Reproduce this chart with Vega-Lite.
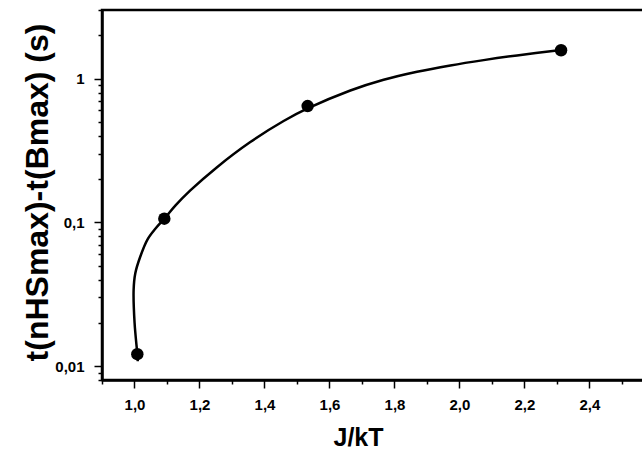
{
  "$schema": "https://vega.github.io/schema/vega-lite/v6.json",
  "width": 543,
  "height": 370,
  "autosize": {"type": "none"},
  "padding": {"left": 102, "top": 10, "right": 0, "bottom": 69},
  "background": "white",
  "config": {
    "view": {"stroke": "black", "strokeWidth": 2.5},
    "font": "Liberation Sans"
  },
  "datasets": {
    "curve": [
      {"i": 0, "x": 1.0102, "y": 0.01081},
      {"i": 1, "x": 1.0087, "y": 0.01211},
      {"i": 2, "x": 1.0003, "y": 0.01993},
      {"i": 3, "x": 0.9973, "y": 0.03385},
      {"i": 4, "x": 1.0025, "y": 0.04428},
      {"i": 5, "x": 1.0179, "y": 0.05781},
      {"i": 6, "x": 1.0394, "y": 0.0756},
      {"i": 7, "x": 1.0641, "y": 0.0902},
      {"i": 8, "x": 1.0918, "y": 0.106},
      {"i": 9, "x": 1.1256, "y": 0.1306},
      {"i": 10, "x": 1.1718, "y": 0.1667},
      {"i": 11, "x": 1.254, "y": 0.242},
      {"i": 12, "x": 1.3564, "y": 0.3617},
      {"i": 13, "x": 1.4589, "y": 0.5067},
      {"i": 14, "x": 1.5328, "y": 0.6194},
      {"i": 15, "x": 1.6642, "y": 0.826},
      {"i": 16, "x": 1.7667, "y": 0.981},
      {"i": 17, "x": 1.8695, "y": 1.1154},
      {"i": 18, "x": 1.972, "y": 1.2343},
      {"i": 19, "x": 2.0745, "y": 1.3443},
      {"i": 20, "x": 2.1773, "y": 1.4497},
      {"i": 21, "x": 2.3127, "y": 1.5785}
    ],
    "points": [
      {"x": 1.0087, "y": 0.0121},
      {"x": 1.0918, "y": 0.106},
      {"x": 1.5328, "y": 0.644},
      {"x": 2.3127, "y": 1.575}
    ]
  },
  "resolve": {"axis": {"x": "independent"}},
  "layer": [
    {
      "data": {"name": "curve"},
      "mark": {"type": "line", "interpolate": "catmull-rom", "color": "black", "strokeWidth": 2.5, "clip": true},
      "encoding": {
        "x": {
          "field": "x", "type": "quantitative",
          "scale": {"domain": [0.9, 2.571], "nice": false, "zero": false},
          "axis": {
            "orient": "bottom",
            "title": "J/kT",
            "values": [1.0, 1.2, 1.4, 1.6, 1.8, 2.0, 2.2, 2.4],
            "labelExpr": "replace(format(datum.value, '.1f'), '.', ',')",
            "tickSize": 8,
            "grid": false,
            "domainColor": "black", "domainWidth": 2.5,
            "tickColor": "black", "tickWidth": 1.5,
            "labelFont": "Liberation Sans", "labelFontWeight": "bold", "labelFontSize": 15, "labelColor": "black",
            "labelPadding": 9, "labelOverlap": false, "labelFlush": false, "labelBound": false,
            "titleFont": "Liberation Sans", "titleFontWeight": "bold", "titleFontSize": 25, "titleColor": "black",
            "titleX": 256, "titleY": 65, "titleBaseline": "alphabetic", "titleAlign": "center"
          }
        },
        "y": {
          "field": "y", "type": "quantitative",
          "scale": {"type": "log", "domain": [0.008, 3], "nice": false, "zero": false},
          "axis": {
            "title": "t(nHSmax)-t(Bmax) (s)",
            "values": [0.008, 0.009, 0.01, 0.02, 0.03, 0.04, 0.05, 0.06, 0.07, 0.08, 0.09, 0.1, 0.2, 0.3, 0.4, 0.5, 0.6, 0.7, 0.8, 0.9, 1, 2, 3],
            "labelExpr": "datum.value == 1 ? '1' : datum.value == 0.1 ? '0,1' : datum.value == 0.01 ? '0,01' : ''",
            "tickSize": {"condition": {"test": "datum.value == 0.01 || datum.value == 0.1 || datum.value == 1", "value": 8}, "value": 4},
            "grid": false,
            "domainColor": "black", "domainWidth": 2.5,
            "tickColor": "black", "tickWidth": 1.5,
            "labelFont": "Liberation Sans", "labelFontWeight": "bold", "labelFontSize": 15, "labelColor": "black",
            "labelPadding": 10, "labelOverlap": false, "labelFlush": false, "labelBound": false,
            "titleFont": "Liberation Sans", "titleFontWeight": "bold", "titleFontSize": 32, "titleColor": "black",
            "titleX": -55, "titleY": 182, "titleAngle": 270, "titleBaseline": "alphabetic", "titleAlign": "center"
          }
        },
        "order": {"field": "i", "type": "quantitative"}
      }
    },
    {
      "data": {"name": "points"},
      "mark": {"type": "point", "filled": true, "shape": "circle", "color": "black", "size": 155, "opacity": 1},
      "encoding": {
        "x": {
          "field": "x", "type": "quantitative",
          "axis": {
            "orient": "bottom",
            "title": null,
            "values": [0.9, 1.1, 1.3, 1.5, 1.7, 1.9, 2.1, 2.3, 2.5],
            "labels": false,
            "domain": false,
            "grid": false,
            "tickSize": 4,
            "tickColor": "black", "tickWidth": 1.5
          }
        },
        "y": {"field": "y", "type": "quantitative"}
      }
    }
  ]
}
